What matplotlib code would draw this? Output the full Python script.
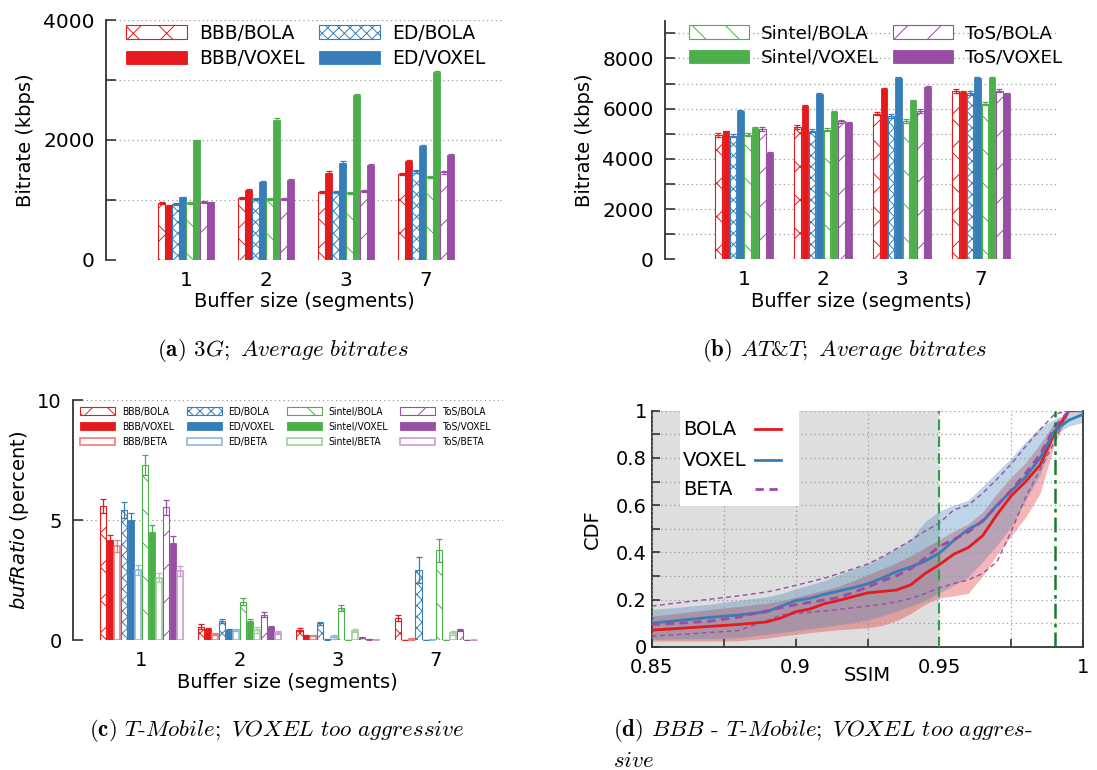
import numpy as np
import matplotlib
matplotlib.use("Agg")
import matplotlib.pyplot as plt
from matplotlib.patches import Patch, Rectangle
from matplotlib.lines import Line2D
from matplotlib.ticker import MultipleLocator, FixedLocator

plt.rcParams['font.family'] = ['DejaVu Sans']
plt.rcParams['hatch.linewidth'] = 0.7

# ---------------------------------------------------------------- data
buffer_sizes = ['1', '2', '3', '7']
videos = ['BBB', 'ED', 'Sintel', 'ToS']

# (a) 3G average bitrate, kbps
g3_bbb_bola = [940, 1030, 1130, 1430]
g3_bbb_voxel = [900, 1160, 1450, 1640]
g3_ed_bola = [925, 1015, 1130, 1470]
g3_ed_voxel = [1040, 1290, 1620, 1890]
g3_sintel_bola = [945, 1010, 1110, 1380]
g3_sintel_voxel = [1990, 2335, 2745, 3125]
g3_tos_bola = [955, 1005, 1145, 1455]
g3_tos_voxel = [955, 1325, 1570, 1740]
g3_bola_err = [18, 18, 18, 22]
g3_voxel_err = [12, 25, 25, 30]

# (b) AT&T average bitrate, kbps
att_bbb_bola = [4960, 5280, 5800, 6710]
att_bbb_voxel = [5100, 6100, 6780, 6660]
att_ed_bola = [4930, 5130, 5700, 6630]
att_ed_voxel = [5900, 6580, 7220, 7220]
att_sintel_bola = [4970, 5170, 5500, 6200]
att_sintel_voxel = [5220, 5880, 6320, 7230]
att_tos_bola = [5200, 5490, 5900, 6720]
att_tos_voxel = [4230, 5440, 6860, 6600]
att_bola_err = [70, 70, 70, 70]
att_voxel_err = [30, 30, 30, 30]

# (c) T-Mobile bufRatio, percent
tm_bbb_bola = [5.58, 0.56, 0.44, 0.93]
tm_bbb_voxel = [4.17, 0.47, 0.19, 0.02]
tm_bbb_beta = [3.92, 0.26, 0.19, 0.06]
tm_ed_bola = [5.42, 0.81, 0.71, 2.92]
tm_ed_voxel = [5.00, 0.43, 0.03, 0.01]
tm_ed_beta = [2.92, 0.43, 0.12, 0.03]
tm_sintel_bola = [7.28, 1.61, 1.35, 3.74]
tm_sintel_voxel = [4.49, 0.79, 0.01, 0.01]
tm_sintel_beta = [2.61, 0.42, 0.40, 0.30]
tm_tos_bola = [5.53, 1.06, 0.11, 0.42]
tm_tos_voxel = [4.06, 0.54, 0.04, 0.01]
tm_tos_beta = [2.88, 0.32, 0.02, 0.01]

tm_bbb_bola_err = [0.28, 0.10, 0.07, 0.12]
tm_bbb_voxel_err = [0.22, 0.04, 0.02, 0.01]
tm_bbb_beta_err = [0.25, 0.03, 0.02, 0.03]
tm_ed_bola_err = [0.33, 0.08, 0.06, 0.55]
tm_ed_voxel_err = [0.31, 0.04, 0.02, 0.01]
tm_ed_beta_err = [0.22, 0.05, 0.08, 0.03]
tm_sintel_bola_err = [0.42, 0.15, 0.12, 0.47]
tm_sintel_voxel_err = [0.32, 0.10, 0.00, 0.00]
tm_sintel_beta_err = [0.18, 0.12, 0.05, 0.08]
tm_tos_bola_err = [0.30, 0.10, 0.03, 0.04]
tm_tos_voxel_err = [0.27, 0.04, 0.03, 0.00]
tm_tos_beta_err = [0.20, 0.05, 0.02, 0.01]

# (d) SSIM CDF for BBB over T-Mobile: median and envelope
ssim = [0.850, 0.860, 0.870, 0.880, 0.890, 0.895, 0.900, 0.905, 0.910,
        0.915, 0.920, 0.925, 0.930, 0.935, 0.940, 0.945, 0.950, 0.955,
        0.960, 0.965, 0.970, 0.975, 0.980, 0.985, 0.990, 0.995, 1.000]
cdf_bola = [0.070, 0.078, 0.086, 0.094, 0.105, 0.122, 0.148, 0.160, 0.182,
            0.196, 0.212, 0.228, 0.234, 0.240, 0.262, 0.310, 0.348, 0.392,
            0.420, 0.470, 0.560, 0.640, 0.700, 0.770, 0.905, 1.000, 1.000]
cdf_bola_lo = [0.024, 0.024, 0.024, 0.025, 0.036, 0.045, 0.052, 0.060, 0.066,
               0.072, 0.076, 0.080, 0.090, 0.110, 0.140, 0.180, 0.207, 0.215,
               0.226, 0.300, 0.390, 0.470, 0.550, 0.650, 0.860, 0.990, 1.000]
cdf_bola_hi = [0.130, 0.143, 0.157, 0.171, 0.184, 0.195, 0.210, 0.225, 0.240,
               0.256, 0.280, 0.305, 0.330, 0.355, 0.385, 0.420, 0.454, 0.490,
               0.520, 0.570, 0.650, 0.720, 0.780, 0.860, 0.950, 1.000, 1.000]
cdf_voxel = [0.100, 0.112, 0.124, 0.134, 0.148, 0.172, 0.195, 0.205, 0.222,
             0.236, 0.250, 0.266, 0.290, 0.318, 0.338, 0.362, 0.397, 0.450,
             0.497, 0.530, 0.600, 0.660, 0.720, 0.800, 0.915, 0.960, 0.985]
cdf_voxel_lo = [0.031, 0.033, 0.035, 0.038, 0.052, 0.060, 0.068, 0.076, 0.084,
                0.093, 0.102, 0.113, 0.130, 0.150, 0.172, 0.196, 0.228, 0.260,
                0.295, 0.360, 0.430, 0.510, 0.620, 0.730, 0.900, 0.935, 0.950]
cdf_voxel_hi = [0.158, 0.168, 0.180, 0.196, 0.212, 0.225, 0.245, 0.262, 0.280,
                0.305, 0.330, 0.350, 0.380, 0.415, 0.455, 0.530, 0.575, 0.600,
                0.620, 0.680, 0.740, 0.800, 0.870, 0.930, 0.965, 0.990, 1.000]
cdf_beta = [0.094, 0.100, 0.108, 0.125, 0.152, 0.165, 0.178, 0.188, 0.198,
            0.208, 0.230, 0.252, 0.278, 0.300, 0.330, 0.375, 0.425, 0.455,
            0.485, 0.535, 0.595, 0.665, 0.735, 0.815, 0.930, 1.000, 1.000]
cdf_beta_lo = [0.045, 0.052, 0.060, 0.068, 0.110, 0.135, 0.140, 0.146, 0.152,
               0.158, 0.165, 0.172, 0.180, 0.190, 0.205, 0.225, 0.249, 0.268,
               0.283, 0.310, 0.360, 0.490, 0.635, 0.750, 0.870, 1.000, 1.000]
cdf_beta_hi = [0.172, 0.187, 0.201, 0.215, 0.232, 0.245, 0.260, 0.275, 0.290,
               0.310, 0.330, 0.350, 0.380, 0.415, 0.450, 0.490, 0.524, 0.580,
               0.600, 0.650, 0.710, 0.775, 0.850, 0.920, 0.985, 1.000, 1.000]
ssim_threshold = 0.95
ssim_target = 0.99

# ---------------------------------------------------------------- styles
COLORS = {'BBB': '#e41a1c', 'ED': '#377eb8', 'Sintel': '#4daf4a', 'ToS': '#984ea3'}
LIGHT = {'BBB': '#f07a7b', 'ED': '#8fb5d8', 'Sintel': '#9bd098', 'ToS': '#c79ccf'}
HATCHES = {'BBB': 'x', 'ED': 'xxx', 'Sintel': '\\', 'ToS': '/'}
AXIS_COL = '#333333'
GRID_KW = dict(color='#9a9a9a', linestyle=(0, (1, 2.5)), linewidth=0.9)


def bar_style(video, method):
    c = COLORS[video]
    if method == 'VOXEL':
        return dict(facecolor=c, edgecolor=c, linewidth=0.6, hatch=None)
    if method == 'BOLA':
        return dict(facecolor='white', edgecolor=c, linewidth=0.8,
                    hatch=HATCHES[video])
    return dict(facecolor='white', edgecolor=LIGHT[video], linewidth=1.2,
                hatch=None)


def legend_handle(video, method):
    return Patch(**bar_style(video, method))


def draw_bars(ax, series, group_width):
    x = np.arange(1, len(buffer_sizes) + 1)
    n = len(series)
    slot = group_width / n
    for i, (video, method, vals, errs) in enumerate(series):
        pos = x + (i - (n - 1) / 2) * slot
        ax.bar(pos, vals, slot * 0.88, zorder=3, **bar_style(video, method))
        ecol = COLORS[video] if method != 'BETA' else LIGHT[video]
        ax.errorbar(pos, vals, yerr=errs, fmt='none', ecolor=ecol,
                    elinewidth=0.9, capsize=2.2, capthick=0.9, zorder=4)
    ax.set_xticks(x)
    ax.set_xticklabels(buffer_sizes)


def style_bar_axes(ax, label_size):
    for s in ['top', 'right', 'bottom']:
        ax.spines[s].set_visible(False)
    ax.spines['left'].set_color(AXIS_COL)
    ax.spines['left'].set_linewidth(1.3)
    ax.tick_params(axis='y', which='both', direction='in', length=7,
                   width=1.2, color=AXIS_COL, labelsize=label_size, pad=8)
    ax.tick_params(axis='x', length=0, labelsize=label_size, pad=8)
    ax.grid(axis='y', which='both', zorder=0, **GRID_KW)
    ax.set_axisbelow(True)


W, H = 1097, 770
fig = plt.figure(figsize=(W / 100, H / 100), dpi=100)


def px_axes(left, top, right, bottom):
    return fig.add_axes([left / W, 1 - bottom / H, (right - left) / W,
                         (bottom - top) / H])


# ---------------------------------------------------------------- (a)
ax_a = px_axes(106, 20, 502, 259.5)
series_a = [
    ('BBB', 'BOLA', g3_bbb_bola, g3_bola_err),
    ('BBB', 'VOXEL', g3_bbb_voxel, g3_voxel_err),
    ('ED', 'BOLA', g3_ed_bola, g3_bola_err),
    ('ED', 'VOXEL', g3_ed_voxel, g3_voxel_err),
    ('Sintel', 'BOLA', g3_sintel_bola, g3_bola_err),
    ('Sintel', 'VOXEL', g3_sintel_voxel, g3_voxel_err),
    ('ToS', 'BOLA', g3_tos_bola, g3_bola_err),
    ('ToS', 'VOXEL', g3_tos_voxel, g3_voxel_err),
]
draw_bars(ax_a, series_a, 0.70)
ax_a.set_xlim(0.0, 4.95)
ax_a.set_ylim(0, 4000)
ax_a.yaxis.set_major_locator(MultipleLocator(2000))
ax_a.yaxis.set_minor_locator(MultipleLocator(1000))
style_bar_axes(ax_a, 14.5)
ax_a.set_ylabel('Bitrate (kbps)', fontsize=14, labelpad=6)
ax_a.set_xlabel('Buffer size (segments)', fontsize=14, labelpad=2)
hs = [legend_handle(v, m) for v in ['BBB', 'ED'] for m in ['BOLA', 'VOXEL']]
ls = [f'{v}/{m}' for v in ['BBB', 'ED'] for m in ['BOLA', 'VOXEL']]
ax_a.legend(hs, ls, ncol=2, loc='upper left', bbox_to_anchor=(0.05, 0.985),
            frameon=False, fontsize=13.4, handlelength=3.3, handleheight=0.75,
            handletextpad=0.65, columnspacing=0.75, labelspacing=0.35,
            borderpad=0, borderaxespad=0)

# ---------------------------------------------------------------- (b)
ax_b = px_axes(665, 20.8, 1057, 259.3)
series_b = [
    ('BBB', 'BOLA', att_bbb_bola, att_bola_err),
    ('BBB', 'VOXEL', att_bbb_voxel, att_voxel_err),
    ('ED', 'BOLA', att_ed_bola, att_bola_err),
    ('ED', 'VOXEL', att_ed_voxel, att_voxel_err),
    ('Sintel', 'BOLA', att_sintel_bola, att_bola_err),
    ('Sintel', 'VOXEL', att_sintel_voxel, att_voxel_err),
    ('ToS', 'BOLA', att_tos_bola, att_bola_err),
    ('ToS', 'VOXEL', att_tos_voxel, att_voxel_err),
]
draw_bars(ax_b, series_b, 0.74)
ax_b.set_xlim(0.0, 4.96)
ax_b.set_ylim(0, 9500)
ax_b.yaxis.set_major_locator(MultipleLocator(2000))
ax_b.yaxis.set_minor_locator(FixedLocator([1000, 3000, 5000, 7000, 9000]))
style_bar_axes(ax_b, 14.5)
ax_b.set_ylabel('Bitrate (kbps)', fontsize=14, labelpad=6)
ax_b.set_xlabel('Buffer size (segments)', fontsize=14, labelpad=2)
hs = [legend_handle(v, m) for v in ['Sintel', 'ToS'] for m in ['BOLA', 'VOXEL']]
ls = [f'{v}/{m}' for v in ['Sintel', 'ToS'] for m in ['BOLA', 'VOXEL']]
ax_b.legend(hs, ls, ncol=2, loc='upper left', bbox_to_anchor=(0.06, 0.985),
            frameon=False, fontsize=13.2, handlelength=3.3, handleheight=0.75,
            handletextpad=0.65, columnspacing=0.75, labelspacing=0.35,
            borderpad=0, borderaxespad=0)

# ---------------------------------------------------------------- (c)
ax_c = px_axes(72.7, 400, 502.7, 640.3)
series_c = [
    ('BBB', 'BOLA', tm_bbb_bola, tm_bbb_bola_err),
    ('BBB', 'VOXEL', tm_bbb_voxel, tm_bbb_voxel_err),
    ('BBB', 'BETA', tm_bbb_beta, tm_bbb_beta_err),
    ('ED', 'BOLA', tm_ed_bola, tm_ed_bola_err),
    ('ED', 'VOXEL', tm_ed_voxel, tm_ed_voxel_err),
    ('ED', 'BETA', tm_ed_beta, tm_ed_beta_err),
    ('Sintel', 'BOLA', tm_sintel_bola, tm_sintel_bola_err),
    ('Sintel', 'VOXEL', tm_sintel_voxel, tm_sintel_voxel_err),
    ('Sintel', 'BETA', tm_sintel_beta, tm_sintel_beta_err),
    ('ToS', 'BOLA', tm_tos_bola, tm_tos_bola_err),
    ('ToS', 'VOXEL', tm_tos_voxel, tm_tos_voxel_err),
    ('ToS', 'BETA', tm_tos_beta, tm_tos_beta_err),
]
draw_bars(ax_c, series_c, 0.85)
ax_c.set_xlim(0.3, 4.68)
ax_c.set_ylim(0, 10)
ax_c.yaxis.set_major_locator(MultipleLocator(5))
style_bar_axes(ax_c, 14)
ax_c.set_ylabel(r'$\mathit{bufRatio}$ (percent)', fontsize=14, labelpad=4,
                math_fontfamily='dejavusans')
ax_c.set_xlabel('Buffer size (segments)', fontsize=14, labelpad=2)
hs = [legend_handle(v, m) for v in videos for m in ['BOLA', 'VOXEL', 'BETA']]
ls = [f'{v}/{m}' for v in videos for m in ['BOLA', 'VOXEL', 'BETA']]
ax_c.legend(hs, ls, ncol=4, loc='upper left', bbox_to_anchor=(0.018, 0.972),
            frameon=False,
            prop=dict(family='DejaVu Sans', stretch='condensed', size=7.4),
            handlelength=3.4, handleheight=0.8,
            handletextpad=0.68, columnspacing=1.2, labelspacing=0.5,
            borderpad=0, borderaxespad=0)

# ---------------------------------------------------------------- (d)
ax_d = px_axes(651.7, 410.7, 1083.3, 646.7)
ax_d.axvspan(0.85, ssim_threshold, color='#dedede', zorder=0, linewidth=0)
ax_d.fill_between(ssim, cdf_bola_lo, cdf_bola_hi, color='#e41a1c',
                  alpha=0.32, linewidth=0, zorder=2)
ax_d.fill_between(ssim, cdf_voxel_lo, cdf_voxel_hi, color='#377eb8',
                  alpha=0.32, linewidth=0, zorder=2)
ax_d.plot(ssim, cdf_beta_lo, color='#984ea3', lw=1.0, ls=(0, (3.5, 2.5)), zorder=3)
ax_d.plot(ssim, cdf_beta_hi, color='#984ea3', lw=1.0, ls=(0, (3.5, 2.5)), zorder=3)
ax_d.plot(ssim, cdf_bola, color='#e41a1c', lw=2.0, zorder=4)
ax_d.plot(ssim, cdf_voxel, color='#377eb8', lw=2.0, zorder=4)
ax_d.plot(ssim, cdf_beta, color='#984ea3', lw=2.0, ls=(0, (3, 2)), zorder=4)
ax_d.axvline(ssim_threshold, color='#2e9e4a', lw=1.5, ls=(0, (5, 3)), zorder=5)
ax_d.axvline(ssim_target, color='#1b7a35', lw=1.8, ls=(0, (6, 2, 1.5, 2)), zorder=5)
ax_d.set_xlim(0.85, 1.0)
ax_d.set_ylim(0, 1)
ax_d.xaxis.set_major_locator(FixedLocator([0.85, 0.9, 0.95, 1.0]))
ax_d.xaxis.set_minor_locator(MultipleLocator(0.025))
ax_d.yaxis.set_major_locator(FixedLocator([0, 0.2, 0.4, 0.6, 0.8, 1.0]))
ax_d.yaxis.set_minor_locator(MultipleLocator(0.1))
ax_d.set_xticklabels(['0.85', '0.9', '0.95', '1'])
ax_d.set_yticklabels(['0', '0.2', '0.4', '0.6', '0.8', '1'])
ax_d.spines['top'].set_visible(False)
for s in ['left', 'bottom', 'right']:
    ax_d.spines[s].set_color(AXIS_COL)
    ax_d.spines[s].set_linewidth(1.3)
ax_d.tick_params(which='both', direction='in', length=6, width=1.2,
                 color=AXIS_COL, labelsize=14, top=False, right=False)
ax_d.tick_params(axis='x', pad=8)
ax_d.grid(which='both', zorder=1, **GRID_KW)
ax_d.set_axisbelow(False)
ax_d.set_xlabel('SSIM', fontsize=14, labelpad=-8)
ax_d.set_ylabel('CDF', fontsize=14, labelpad=10)

# key box: labels on the left, line samples on the right
tr = ax_d.transAxes
ax_d.add_patch(Rectangle((0.065, 0.597), 0.277, 0.403, transform=tr,
                         facecolor='white', edgecolor='none', zorder=8))
key_rows = [('BOLA', '#e41a1c', '-', 0.921), ('VOXEL', '#377eb8', '-', 0.791),
            ('BETA', '#984ea3', (0, (3, 2)), 0.667)]
for name, col, ls_, yy in key_rows:
    ax_d.text(0.0725, yy, name, transform=tr, fontsize=14, ha='left',
              va='center', zorder=9)
    ax_d.add_line(Line2D([0.239, 0.299], [yy, yy], transform=tr, color=col,
                         lw=2.0, ls=ls_, zorder=9))

# ---------------------------------------------------------------- captions
cap_kw = dict(fontsize=16.5, family='cmr10', math_fontfamily='cm')
fig.text(283 / W, 1 - 351 / H,
         r'$\mathbf{(a)}$ $\mathit{3G;\ Average\ bitrates}$',
         ha='center', va='center', **cap_kw)
fig.text(845 / W, 1 - 351 / H,
         r'$\mathbf{(b)}$ $\mathit{AT}$&$\mathit{T;\ Average\ bitrates}$',
         ha='center', va='center', **cap_kw)
fig.text(277 / W, 1 - 731 / H,
         r'$\mathbf{(c)}$ $\mathit{T}$-$\mathit{Mobile;\ VOXEL\ too\ aggressive}$',
         ha='center', va='center', **cap_kw)
fig.text(613 / W, 1 - 731 / H,
         r'$\mathbf{(d)}$ $\mathit{BBB}$ - $\mathit{T}$-$\mathit{Mobile;\ VOXEL\ too\ aggres}$-',
         ha='left', va='center', **cap_kw)
fig.text(613 / W, 1 - 761 / H, r'$\mathit{sive}$', ha='left', va='center', **cap_kw)

fig.savefig('out.png', dpi=100)
